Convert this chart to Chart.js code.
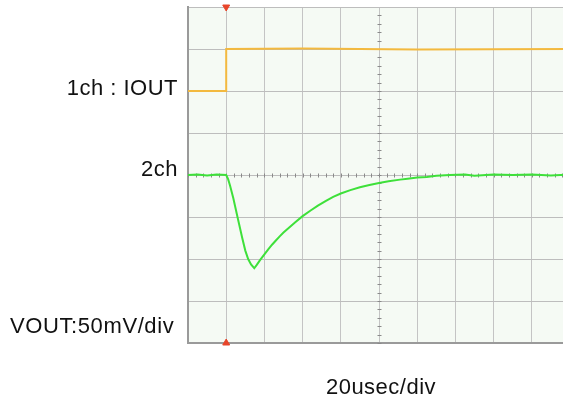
<!DOCTYPE html>
<html>
<head>
<meta charset="utf-8">
<script src="https://cdn.jsdelivr.net/npm/chart.js@4"></script>
<style>
html,body{margin:0;padding:0;background:#fff;overflow:hidden;width:563px;height:403px;}
#wrap{position:absolute;left:0;top:0;width:580px;height:403px;}
</style>
</head>
<body>
<div id="wrap"><canvas id="c" width="580" height="403"></canvas></div>
<script>
// time in usec (20 usec/div), vertical in divisions
const timeTicks = [-20, 0, 20, 40, 60, 80, 100, 120, 140, 160, 180];
const ch1Iout = [[-20, 2], [0, 2], [0, 3], [40, 3.01], [100, 2.99], [180, 3]];
const ch2Vout = [
  [-20, 0], [-15, 0.01], [-10, -0.01], [-5, 0.01], [0, 0], [1, -0.1], [2, -0.25], [3.7, -0.55],
  [6, -1.02], [8.4, -1.5], [10, -1.8], [11.5, -2.0], [13, -2.13], [14.7, -2.22], [16, -2.14],
  [17.8, -2.02], [20, -1.89], [22, -1.77], [24, -1.66], [26, -1.56], [28, -1.46], [30, -1.37],
  [33, -1.25], [36, -1.13], [40, -0.98], [44, -0.85], [48, -0.73], [52, -0.62], [56, -0.52],
  [60, -0.44], [65, -0.36], [70, -0.29], [75, -0.24], [80, -0.19], [85, -0.15], [91, -0.11],
  [95, -0.09], [100, -0.06], [105, -0.05], [110, -0.02], [117, 0], [125, 0.01], [130, -0.02],
  [140, 0.01], [150, 0], [160, 0.01], [170, -0.01], [180, 0.01]
];
const triggerMarks = [[0, 4], [0, -4]];
const labels = {ch1: "1ch : IOUT", ch2: "2ch", vdiv: "VOUT:50mV/div", tdiv: "20usec/div"};

const toXY = a => a.map(p => ({x: p[0], y: p[1]}));

const scopePlugin = {
  id: 'scope',
  beforeDraw(chart) {
    const {ctx, chartArea: a} = chart;
    ctx.save();
    ctx.fillStyle = '#f5faf4';
    ctx.fillRect(a.left, a.top, a.right - a.left, a.bottom - a.top);
    ctx.restore();
  },
  beforeDatasetsDraw(chart) {
    const {ctx, scales: {x, y}} = chart;
    ctx.save();
    ctx.strokeStyle = '#8a8a8a';
    ctx.lineWidth = 1;
    const y0 = Math.round(y.getPixelForValue(0)) + 0.5;
    const x0 = Math.round(x.getPixelForValue(80)) + 0.5;
    ctx.beginPath();
    for (let t = -20; t <= 180; t += 4) {
      const px = Math.round(x.getPixelForValue(t)) + 0.5;
      ctx.moveTo(px, y0 - 2); ctx.lineTo(px, y0 + 2);
    }
    for (let v = -4; v <= 4; v += 0.2) {
      const py = Math.round(y.getPixelForValue(v)) + 0.5;
      ctx.moveTo(x0 - 2, py); ctx.lineTo(x0 + 2, py);
    }
    ctx.stroke();
    ctx.restore();
  },
  afterDraw(chart) {
    const {ctx, scales: {x, y}} = chart;
    ctx.save();
    ctx.fillStyle = '#111';
    ctx.font = '22px "Liberation Sans", Arial, sans-serif';
    ctx.letterSpacing = '0.5px';
    ctx.textBaseline = 'middle';
    ctx.textAlign = 'right';
    ctx.fillText(labels.ch1, 178, y.getPixelForValue(2) - 2);
    ctx.fillText(labels.ch2, 178, y.getPixelForValue(0) - 5);
    ctx.textAlign = 'left';
    ctx.letterSpacing = '0.6px';
    ctx.fillText(labels.vdiv, 10, 327);
    ctx.textAlign = 'center';
    ctx.letterSpacing = '0.5px';
    ctx.fillText(labels.tdiv, 381, 388);
    ctx.restore();
  }
};

new Chart(document.getElementById('c'), {
  type: 'line',
  data: {
    datasets: [
      {data: toXY(ch1Iout), borderColor: '#f3b93f', borderWidth: 2, pointRadius: 0, tension: 0},
      {data: toXY(ch2Vout), borderColor: '#3ee03a', borderWidth: 2, pointRadius: 0, tension: 0},
      {type: 'scatter', data: toXY(triggerMarks), pointStyle: 'triangle', pointRadius: 4,
       rotation: [180, 0], backgroundColor: '#e8452a', borderColor: '#e8452a', clip: false}
    ]
  },
  options: {
    responsive: false,
    animation: false,
    events: [],
    layout: {padding: {left: 188, right: 10, top: 7, bottom: 60}},
    plugins: {legend: {display: false}, tooltip: {enabled: false}},
    scales: {
      x: {
        type: 'linear', min: -20, max: 180,
        afterBuildTicks: s => { s.ticks = timeTicks.map(v => ({value: v})); },
        ticks: {display: false},
        grid: {color: '#c4c4c4', lineWidth: 1, drawTicks: false},
        border: {display: true, color: '#9a9a9a', width: 2}
      },
      y: {
        type: 'linear', min: -4, max: 4,
        ticks: {display: false, stepSize: 1},
        grid: {color: '#bdbdbd', lineWidth: 1, drawTicks: false},
        border: {display: true, color: '#9a9a9a', width: 2}
      }
    }
  },
  plugins: [scopePlugin]
});
</script>
</body>
</html>
